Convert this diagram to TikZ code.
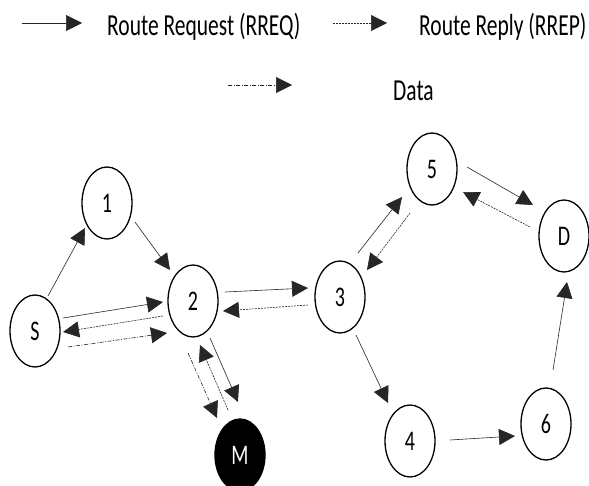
\documentclass[tikz,border=0pt]{standalone}
\usepackage{fontspec}
\usepackage{graphicx}
\setmainfont{Carlito}
\usetikzlibrary{arrows.meta,calc,shapes.geometric}
\newcommand{\stt}[1]{\scalebox{1}[1.42]{#1}}
\begin{document}
\begin{tikzpicture}[x=1pt,y=-1pt,
  nd/.style={ellipse,draw=black,line width=1.3pt,minimum width=50pt,minimum height=72pt,inner sep=0pt,font=\fontsize{20}{24}\selectfont},
  mal/.style={nd,fill=black,text=white},
  tip/.style={-{Triangle[length=16pt,width=16pt]}},
  req/.style={tip,line width=0.6pt,draw=black!85},
  rep/.style={tip,line width=0.6pt,draw=black!85,dash pattern=on 2pt off 1pt},
  dat/.style={tip,line width=0.6pt,draw=black!85,dash pattern=on 4pt off 1.5pt on 1pt off 1.5pt},
  lbl/.style={anchor=west,inner sep=0pt,font=\fontsize{21.5}{26}\selectfont}]
\useasboundingbox (0,0) rectangle (589,486);
% legend
\coordinate (a1) at (22,23); \coordinate (b1) at (82,23);
\draw[req] (a1) -- (b1);
\node[lbl] (t1) at (107,27) {\stt{Route Request (RREQ)}};
\coordinate (a2) at (333,23); \coordinate (b2) at (387,23);
\draw[rep] (a2) -- (b2);
\node[lbl] (t2) at (419,27) {\stt{Route Reply (RREP)}};
\coordinate (a3) at (228,85); \coordinate (b3) at (292,85);
\draw[dat] (a3) -- (b3);
\node[lbl] (t3) at (393,91) {\stt{Data}};
% nodes
\node[nd] (S) at (35,331) {\stt{S}};
\node[nd] (n1) at (107,203) {\stt{1}};
\node[nd] (n2) at (193,301) {\stt{2}};
\node[nd] (n3) at (340,297) {\stt{3}};
\node[nd] (n5) at (432,169) {\stt{5}};
\node[nd] (D) at (564,236) {\stt{D}};
\node[nd] (n4) at (410,441) {\stt{4}};
\node[nd] (n6) at (546,424) {\stt{6}};
\node[mal] (M) at (240,455) {\stt{M}};
% edges
\draw[req] ($(S)+(13,-35)$) -- ($(n1)+(-22,25)$);
\draw[req] ($(n1)+(28,19)$) -- ($(n2)+(-23,-31)$);
\draw[req] ($(S)+(28,-13)$) -- ($(n2)+(-30,1)$);
\draw[rep] ($(n2)+(-30,15)$) -- ($(S)+(28,1)$);
\draw[dat] ($(S)+(33,16)$) -- ($(n2)+(-26,32)$);
\draw[req] ($(n2)+(32,-9)$) -- ($(n3)+(-32,-9)$);
\draw[rep] ($(n3)+(-32,8)$) -- ($(n2)+(30,10)$);
\draw[req] ($(n2)+(17,37)$) -- ($(M)+(-2,-53)$);
\draw[rep] ($(M)+(-12,-45)$) -- ($(n2)+(7,44)$);
\draw[dat] ($(n2)+(-5,52)$) -- ($(M)+(-23,-37)$);
\draw[req] ($(n3)+(18,-44)$) -- ($(n5)+(-30,28)$);
\draw[rep] ($(n5)+(-22,44)$) -- ($(n3)+(27,-27)$);
\draw[req] ($(n5)+(35,-2)$) -- ($(D)+(-31,-31)$);
\draw[rep] ($(D)+(-34,-9)$) -- ($(n5)+(31,23)$);
\draw[req] ($(n3)+(16,38)$) -- ($(n4)+(-22,-38)$);
\draw[req] ($(n4)+(40,-1)$) -- ($(n6)+(-31,12)$);
\draw[req] ($(n6)+(7,-54)$) -- ($(D)+(3,46)$);
\end{tikzpicture}
\end{document}
